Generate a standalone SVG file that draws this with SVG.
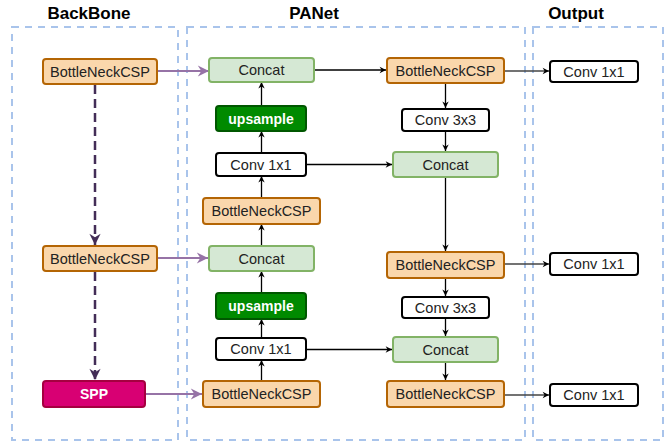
<svg xmlns="http://www.w3.org/2000/svg" width="669" height="444" viewBox="0 0 669 444">
<defs>
<marker id="ab" viewBox="0 0 10 10" refX="9" refY="5" markerWidth="8" markerHeight="8" markerUnits="userSpaceOnUse" orient="auto">
<path d="M1,1 L9,5 L1,9 L3.5,5 z" fill="#000"/>
</marker>
<marker id="ap" viewBox="0 0 10 10" refX="9" refY="5" markerWidth="14" markerHeight="14" markerUnits="userSpaceOnUse" orient="auto">
<path d="M1,1 L9,5 L1,9 L3.5,5 z" fill="#9673a6"/>
</marker>
<marker id="ad" viewBox="0 0 10 10" refX="9" refY="5" markerWidth="14" markerHeight="14" markerUnits="userSpaceOnUse" orient="auto">
<path d="M1,1 L9,5 L1,9 L3.5,5 z" fill="#432d57"/>
</marker>
</defs>
<style>
.cont{fill:none;stroke:#a9c4eb;stroke-width:2;stroke-dasharray:7 6}
.title{font-family:"Liberation Sans",Arial,sans-serif;font-weight:bold;font-size:17px;fill:#000;text-anchor:middle}
.t{font-family:"Liberation Sans",Arial,sans-serif;font-size:14.5px;fill:#222;text-anchor:middle}
.tw{font-family:"Liberation Sans",Arial,sans-serif;font-size:14px;font-weight:bold;fill:#fff;text-anchor:middle}
.orange{fill:#fad7ac;stroke:#b46504;stroke-width:2}
.green{fill:#d5e8d4;stroke:#82b366;stroke-width:2}
.dgreen{fill:#008a00;stroke:#005700;stroke-width:2}
.pink{fill:#d80073;stroke:#a50040;stroke-width:2}
.conv{fill:#fff;stroke:#000;stroke-width:2}
.c{fill:none;stroke:#000;stroke-width:1.3}
.co{fill:none;stroke:#444;stroke-width:1.3}
.cp{fill:none;stroke:#9673a6;stroke-width:2}
.cd{fill:none;stroke:#432d57;stroke-width:2.5;stroke-dasharray:9 5}
</style>
<rect width="669" height="444" fill="#fff"/>
<g id="containers">
<rect class="cont" x="12" y="27" width="166" height="413"/>
<rect class="cont" x="187" y="27" width="338" height="413"/>
<rect class="cont" x="533" y="27" width="130" height="413"/>
<text class="title" x="89" y="19">BackBone</text>
<text class="title" x="314" y="19">PANet</text>
<text class="title" x="576" y="19">Output</text>
</g>
<g id="connectors">
<path class="cd" d="M95,85 V245" marker-end="url(#ad)"/>
<path class="cd" d="M95,272 V380" marker-end="url(#ad)"/>
<path class="cp" d="M158,71 H209" marker-end="url(#ap)"/>
<path class="cp" d="M158,258 H208" marker-end="url(#ap)"/>
<path class="cp" d="M146,394 H202" marker-end="url(#ap)"/>
<path class="c" d="M261.5,381 V360" marker-end="url(#ab)"/>
<path class="c" d="M261.5,338 V319" marker-end="url(#ab)"/>
<path class="c" d="M261.5,293 V271" marker-end="url(#ab)"/>
<path class="c" d="M261.5,246 V224" marker-end="url(#ab)"/>
<path class="c" d="M261.5,198 V176" marker-end="url(#ab)"/>
<path class="c" d="M261.5,153 V131" marker-end="url(#ab)"/>
<path class="c" d="M261.5,106 V82" marker-end="url(#ab)"/>
<path class="c" d="M314,70 H386" marker-end="url(#ab)"/>
<path class="c" d="M306,164.5 H392" marker-end="url(#ab)"/>
<path class="c" d="M306,349.5 H392" marker-end="url(#ab)"/>
<path class="c" d="M445.5,83 V108" marker-end="url(#ab)"/>
<path class="c" d="M445.5,131 V151" marker-end="url(#ab)"/>
<path class="c" d="M445.5,177 V251" marker-end="url(#ab)"/>
<path class="c" d="M445.5,278 V296" marker-end="url(#ab)"/>
<path class="c" d="M445.5,318 V336" marker-end="url(#ab)"/>
<path class="c" d="M445.5,362 V380" marker-end="url(#ab)"/>
<path class="co" d="M504,71 H549" marker-end="url(#ab)"/>
<path class="co" d="M504,264 H549" marker-end="url(#ab)"/>
<path class="co" d="M504,395 H549" marker-end="url(#ab)"/>
</g>
<g id="bb-bnc1"><rect class="orange" x="43" y="59" width="114" height="25" rx="3"/><text class="t" x="100" y="76.5">BottleNeckCSP</text></g>
<g id="bb-bnc2"><rect class="orange" x="43" y="246" width="114" height="25" rx="3"/><text class="t" x="100" y="263.5">BottleNeckCSP</text></g>
<g id="bb-spp"><rect class="pink" x="43" y="381" width="102" height="26" rx="3"/><text class="tw" x="94" y="399">SPP</text></g>
<g id="pa-concat1"><rect class="green" x="209" y="58" width="105" height="24" rx="3"/><text class="t" x="261.5" y="75">Concat</text></g>
<g id="pa-up1"><rect class="dgreen" x="216" y="106" width="90" height="25" rx="3"/><text class="tw" x="261" y="123.5">upsample</text></g>
<g id="pa-conv1"><rect class="conv" x="216" y="153" width="90" height="23" rx="3"/><text class="t" x="261" y="169.5">Conv 1x1</text></g>
<g id="pa-bnc1"><rect class="orange" x="203" y="198" width="117" height="26" rx="3"/><text class="t" x="261.5" y="216">BottleNeckCSP</text></g>
<g id="pa-concat2"><rect class="green" x="209" y="246" width="105" height="25" rx="3"/><text class="t" x="261.5" y="263.5">Concat</text></g>
<g id="pa-up2"><rect class="dgreen" x="216" y="293" width="90" height="26" rx="3"/><text class="tw" x="261" y="311">upsample</text></g>
<g id="pa-conv2"><rect class="conv" x="216" y="338" width="90" height="22" rx="3"/><text class="t" x="261" y="354">Conv 1x1</text></g>
<g id="pa-bnc2"><rect class="orange" x="203" y="381" width="117" height="26" rx="3"/><text class="t" x="261.5" y="399">BottleNeckCSP</text></g>
<g id="pa-bnc3"><rect class="orange" x="387" y="58" width="117" height="25" rx="3"/><text class="t" x="445.5" y="75.5">BottleNeckCSP</text></g>
<g id="pa-conv3"><rect class="conv" x="402" y="109" width="87" height="22" rx="3"/><text class="t" x="445.5" y="125">Conv 3x3</text></g>
<g id="pa-concat3"><rect class="green" x="393" y="152" width="105" height="25" rx="3"/><text class="t" x="445.5" y="169.5">Concat</text></g>
<g id="pa-bnc4"><rect class="orange" x="387" y="252" width="117" height="26" rx="3"/><text class="t" x="445.5" y="270">BottleNeckCSP</text></g>
<g id="pa-conv4"><rect class="conv" x="402" y="297" width="87" height="21" rx="3"/><text class="t" x="445.5" y="312.5">Conv 3x3</text></g>
<g id="pa-concat4"><rect class="green" x="393" y="337" width="105" height="25" rx="3"/><text class="t" x="445.5" y="354.5">Concat</text></g>
<g id="pa-bnc5"><rect class="orange" x="387" y="381" width="117" height="26" rx="3"/><text class="t" x="445.5" y="399">BottleNeckCSP</text></g>
<g id="out-conv1"><rect class="conv" x="550" y="61" width="88" height="21" rx="3"/><text class="t" x="594" y="76.5">Conv 1x1</text></g>
<g id="out-conv2"><rect class="conv" x="550" y="253" width="88" height="22" rx="3"/><text class="t" x="594" y="269">Conv 1x1</text></g>
<g id="out-conv3"><rect class="conv" x="550" y="384" width="88" height="22" rx="3"/><text class="t" x="594" y="400">Conv 1x1</text></g>
</svg>
